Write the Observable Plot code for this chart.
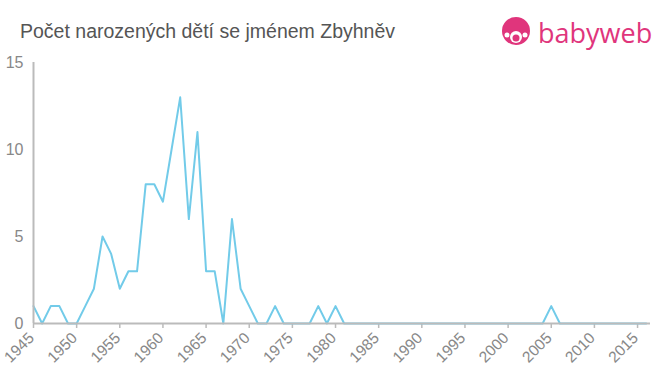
<!DOCTYPE html>
<html><head><meta charset="utf-8">
<script src="https://cdn.jsdelivr.net/npm/d3@7"></script>
<script src="https://cdn.jsdelivr.net/npm/@observablehq/plot@0.6"></script>
<style>
body{margin:0;background:#fff;font-family:"Liberation Sans",Arial,sans-serif;}
#wrap{position:relative;width:660px;height:375px;overflow:hidden;}
#title{position:absolute;left:20px;top:20px;font-size:19.5px;color:#555;}
#logo{position:absolute;left:500px;top:14px;height:36px;display:flex;align-items:center;}
#logo .txt{font-family:"Open Sans","Liberation Sans",sans-serif;font-size:27px;color:#e0357c;margin-left:6px;letter-spacing:0px;}
#chart{position:absolute;left:0;top:50px;}
</style></head>
<body><div id="wrap">
<div id="title">Počet narozených dětí se jménem Zbyhněv</div>
<div id="logo"><svg width="32" height="32" viewBox="0 0 32 32"><circle cx="16" cy="15" r="14" fill="#e0357c"/><circle cx="16" cy="21" r="6" fill="#fff"/><circle cx="16" cy="22" r="3.5" fill="#e0357c"/><circle cx="7" cy="19" r="2.5" fill="#fff"/><circle cx="25" cy="19" r="2.5" fill="#fff"/></svg><span class="txt">babyweb</span></div>
<div id="chart"></div>
</div>
<script>
const years = d3.range(1945, 2017);
const counts = [1,0,1,1,0,0,1,2,5,4,2,3,3,8,8,7,10,13,6,11,3,3,0,6,2,1,0,0,1,0,0,0,0,1,0,1,
0,0,0,0,0,0,0,0,0,0,0,0,0,0,0,0,0,0,0,0,0,0,0,0,1,0,0,0,0,0,0,0,0,0,0,0];
const xTicks = d3.range(1945, 2020, 5);
const yTicks = [0,5,10,15];
const data = years.map((y,i)=>({year:y,count:counts[i]}));
const chart = Plot.plot({
  width:660, height:325,
  marginLeft:33, marginRight:10, marginTop:12, marginBottom:52,
  style:{fontFamily:"'Liberation Sans',Arial,sans-serif",color:"#888",background:"#fff"},
  x:{domain:[1945,2016.5]},
  y:{domain:[0,15]},
  marks:[
    Plot.axisY({ticks:yTicks, tickSize:0, tickPadding:10, fontSize:16, fill:"#888", label:null}),
    Plot.axisX({ticks:xTicks, tickFormat:()=>"", tickSize:5, stroke:"#bbb", strokeWidth:1.5, label:null}),
    Plot.text(xTicks,{x:d=>d, y:0, text:d=>String(d), rotate:-45, textAnchor:"end", lineAnchor:"bottom", dx:1.5, dy:15.5, fontSize:15.5, fill:"#888"}),
    Plot.line(data,{x:"year",y:"count",stroke:"#72cbe9",strokeWidth:2}),
    Plot.ruleY([0],{stroke:"#bbb",strokeWidth:2}),
    Plot.ruleX([1945],{stroke:"#bbb",strokeWidth:2})
  ]
});
document.getElementById("chart").appendChild(chart);
</script>
</body></html>
